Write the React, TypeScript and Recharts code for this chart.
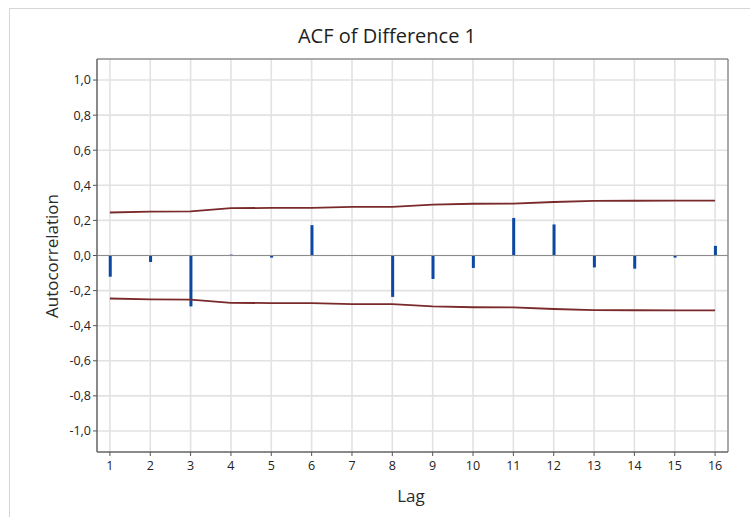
import {
  ComposedChart,
  Bar,
  Line,
  XAxis,
  YAxis,
  CartesianGrid,
  ReferenceLine,
  ReferenceArea,
} from "recharts";

const lags = [1, 2, 3, 4, 5, 6, 7, 8, 9, 10, 11, 12, 13, 14, 15, 16];
const acf = [
  -0.121, -0.037, -0.29, 0.005, -0.012, 0.173, 0.003, -0.236, -0.134, -0.071,
  0.214, 0.177, -0.068, -0.075, -0.012, 0.055,
];
const upperLimit = [
  0.245, 0.25, 0.251, 0.27, 0.271, 0.271, 0.277, 0.277, 0.29, 0.295, 0.296,
  0.305, 0.311, 0.312, 0.313, 0.313,
];
const lowerLimit = [
  -0.245, -0.25, -0.251, -0.27, -0.271, -0.271, -0.277, -0.277, -0.29, -0.295,
  -0.296, -0.305, -0.311, -0.312, -0.313, -0.313,
];
const yTicks = [-1, -0.8, -0.6, -0.4, -0.2, 0, 0.2, 0.4, 0.6, 0.8, 1];

const font = "'Open Sans', 'Noto Sans', sans-serif";

const data = lags.map((lag, i) => ({
  lag,
  acf: acf[i],
  upper: upperLimit[i],
  lower: lowerLimit[i],
}));

const fmt = (v: number) => v.toFixed(1).replace(".", ",");

export default function App() {
  return (
    <div
      style={{
        position: "absolute",
        left: 0,
        top: 0,
        width: 750,
        height: 517,
        background: "#fff",
        fontFamily: font,
        overflow: "hidden",
      }}
    >
      <div
        style={{
          position: "absolute",
          left: 9,
          top: 8,
          width: 760,
          height: 520,
          borderTop: "1px solid #d6d6d6",
          borderLeft: "1px solid #d6d6d6",
        }}
      />
      <div
        style={{
          position: "absolute",
          left: 0,
          width: 774,
          top: 22,
          textAlign: "center",
          fontSize: 20,
          color: "#1e1e1e",
        }}
      >
        ACF of Difference 1
      </div>
      <div
        style={{
          position: "absolute",
          left: 0,
          width: 822,
          top: 484,
          textAlign: "center",
          fontSize: 17,
          color: "#2a2a2a",
        }}
      >
        Lag
      </div>
      <div
        style={{
          position: "absolute",
          left: 51,
          top: 256,
          transform: "translate(-50%, -50%) rotate(-90deg)",
          fontSize: 17,
          color: "#2a2a2a",
          whiteSpace: "nowrap",
        }}
      >
        Autocorrelation
      </div>
      <div style={{ position: "absolute", left: 0, top: 0 }}>
        <ComposedChart
          width={750}
          height={517}
          data={data}
          margin={{ top: 59, right: 22, bottom: 0, left: 0 }}
        >
          <CartesianGrid stroke="#e2e2e2" strokeWidth={1.6} />
          <XAxis
            dataKey="lag"
            type="number"
            domain={[0.68, 16.32]}
            ticks={lags}
            allowDataOverflow
            height={65}
            tickSize={4}
            tickMargin={5}
            axisLine={{ stroke: "#6a6a6a" }}
            tickLine={{ stroke: "#555" }}
            tick={{ fill: "#222", fontSize: 12.5, fontFamily: font }}
          />
          <YAxis
            type="number"
            domain={[-1.12, 1.12]}
            ticks={yTicks}
            allowDataOverflow
            width={97}
            tickSize={4}
            tickMargin={2}
            tickFormatter={fmt}
            axisLine={{ stroke: "#6a6a6a" }}
            tickLine={{ stroke: "#555" }}
            tick={{ fill: "#222", fontSize: 12.5, fontFamily: font }}
          />
          <ReferenceArea
            x1={0.68}
            x2={16.32}
            y1={-1.12}
            y2={1.12}
            fill="none"
            stroke="#6a6a6a"
            strokeWidth={1}
          />
          <ReferenceLine y={0} stroke="#8c8c8c" strokeWidth={1} />
          <Bar dataKey="acf" fill="#0c47a1" barSize={3} isAnimationActive={false} />
          <Line
            dataKey="upper"
            type="linear"
            stroke="#7a2a2a"
            strokeWidth={1.8}
            dot={false}
            isAnimationActive={false}
          />
          <Line
            dataKey="lower"
            type="linear"
            stroke="#7a2a2a"
            strokeWidth={1.8}
            dot={false}
            isAnimationActive={false}
          />
        </ComposedChart>
      </div>
    </div>
  );
}
